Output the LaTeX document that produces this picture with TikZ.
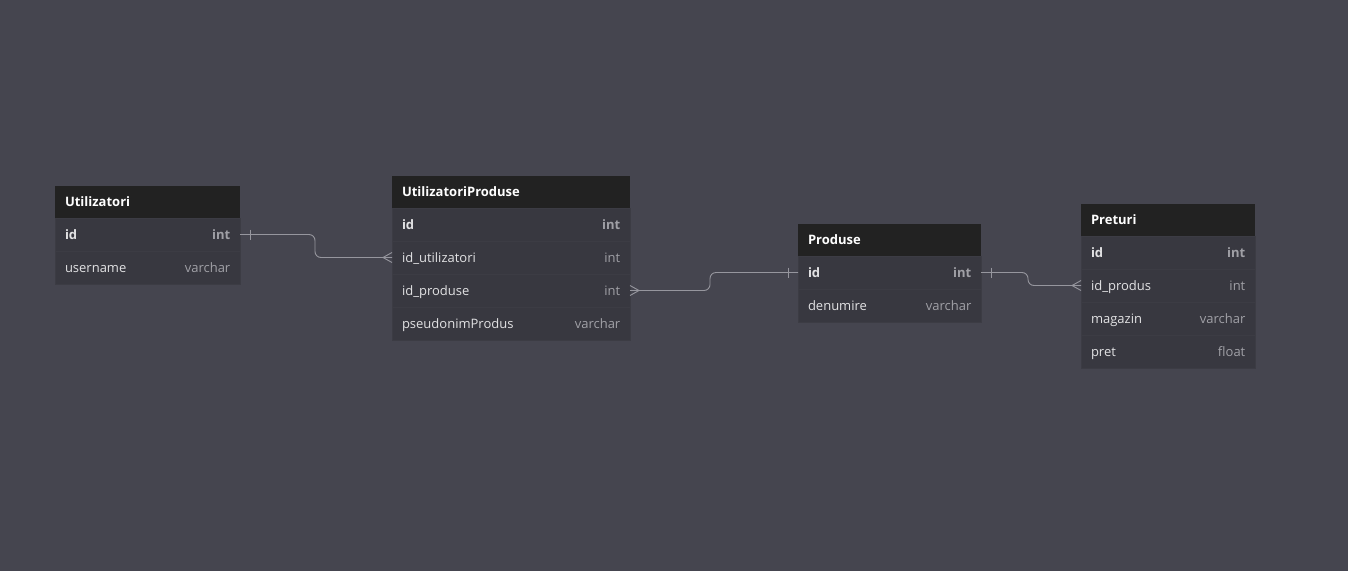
\documentclass[tikz,border=0pt]{standalone}
\usepackage{fontspec}
\setmainfont{Open Sans}
\usepackage{xcolor}
\usetikzlibrary{positioning}
\definecolor{bgcol}{RGB}{69,69,79}
\definecolor{headcol}{RGB}{34,34,34}
\definecolor{rowcol}{RGB}{56,56,64}
\definecolor{rowline}{RGB}{60,60,68}
\definecolor{namecol}{RGB}{226,226,228}
\definecolor{typecol}{RGB}{160,160,166}
\definecolor{relcol}{RGB}{150,150,158}
\newcommand\erfont{\fontsize{13}{15}\selectfont}
\tikzset{
  tblhead/.style={
    fill=headcol,
    text=white,
    anchor=north west,
    minimum height=32pt,
    inner xsep=10pt,
    inner ysep=0pt,
    outer sep=0pt,
    text height=11pt,
    text depth=3pt,
    text width=#1,
    align=left,
    font=\erfont\bfseries
  },
  tblrow/.style={
    fill=rowcol,
    draw=rowline,
    line width=0.6pt,
    text=namecol,
    anchor=north west,
    minimum height=33pt,
    inner xsep=10pt,
    inner ysep=0pt,
    outer sep=0pt,
    text height=12pt,
    text depth=2pt,
    text width=#1,
    align=left,
    font=\erfont
  },
  keyrow/.style={tblrow=#1, font=\erfont\bfseries},
  ftype/.style={text=typecol, anchor=base east, inner sep=0pt, font=\erfont},
  keytype/.style={ftype, font=\erfont\bfseries},
  rel/.style={draw=relcol, line width=0.9pt}
}
\begin{document}
\begin{tikzpicture}[x=1pt,y=-1pt]
  \fill[bgcol] (0,0) rectangle (1348,571);
  \useasboundingbox (0,0) rectangle (1348,571);

  % Utilizatori
  \node[tblhead=165pt] (ut-head) at (55,186) {Utilizatori};
  \node[keyrow=165pt] (ut-id) at (ut-head.south west) {id};
  \node[keytype] (ut-id-t) at ([xshift=-9.5pt]ut-id.base east) {int};
  \node[tblrow=165pt] (ut-un) at (ut-id.south west) {username};
  \node[ftype] (ut-un-t) at ([xshift=-9.5pt]ut-un.base east) {varchar};

  % UtilizatoriProduse
  \node[tblhead=218pt] (up-head) at (392,176) {UtilizatoriProduse};
  \node[keyrow=218pt] (up-id) at (up-head.south west) {id};
  \node[keytype] (up-id-t) at ([xshift=-9.5pt]up-id.base east) {int};
  \node[tblrow=218pt] (up-uid) at (up-id.south west) {id\_utilizatori};
  \node[ftype] (up-uid-t) at ([xshift=-9.5pt]up-uid.base east) {int};
  \node[tblrow=218pt] (up-ip) at (up-uid.south west) {id\_produse};
  \node[ftype] (up-ip-t) at ([xshift=-9.5pt]up-ip.base east) {int};
  \node[tblrow=218pt] (up-ps) at (up-ip.south west) {pseudonimProdus};
  \node[ftype] (up-ps-t) at ([xshift=-9.5pt]up-ps.base east) {varchar};

  % Produse
  \node[tblhead=163pt] (pr-head) at (798,224) {Produse};
  \node[keyrow=163pt] (pr-id) at (pr-head.south west) {id};
  \node[keytype] (pr-id-t) at ([xshift=-9.5pt]pr-id.base east) {int};
  \node[tblrow=163pt] (pr-den) at (pr-id.south west) {denumire};
  \node[ftype] (pr-den-t) at ([xshift=-9.5pt]pr-den.base east) {varchar};

  % Preturi
  \node[tblhead=154pt] (pt-head) at (1081,204) {Preturi};
  \node[keyrow=154pt] (pt-id) at (pt-head.south west) {id};
  \node[keytype] (pt-id-t) at ([xshift=-9.5pt]pt-id.base east) {int};
  \node[tblrow=154pt] (pt-ip) at (pt-id.south west) {id\_produs};
  \node[ftype] (pt-ip-t) at ([xshift=-9.5pt]pt-ip.base east) {int};
  \node[tblrow=154pt] (pt-mag) at (pt-ip.south west) {magazin};
  \node[ftype] (pt-mag-t) at ([xshift=-9.5pt]pt-mag.base east) {varchar};
  \node[tblrow=154pt] (pt-pret) at (pt-mag.south west) {pret};
  \node[ftype] (pt-pret-t) at ([xshift=-9.5pt]pt-pret.base east) {float};

  % Utilizatori.id -< UtilizatoriProduse.id_utilizatori
  \draw[rel, rounded corners=6pt] (ut-id.east) -- ++(75,0) |- (up-uid.west);
  \draw[rel] ([xshift=10pt,yshift=5pt]ut-id.east) -- ++(0,10);
  \draw[rel] ([yshift=5pt]up-uid.west) -- ([xshift=-9pt]up-uid.west) -- ([yshift=-5pt]up-uid.west);

  % UtilizatoriProduse.id_produse >- Produse.id
  \draw[rel, rounded corners=6pt] (up-ip.east) -- ++(80,0) |- (pr-id.west);
  \draw[rel] ([yshift=5pt]up-ip.east) -- ([xshift=9pt]up-ip.east) -- ([yshift=-5pt]up-ip.east);
  \draw[rel] ([xshift=-10pt,yshift=5pt]pr-id.west) -- ++(0,10);

  % Produse.id -< Preturi.id_produs
  \draw[rel, rounded corners=6pt] (pr-id.east) -- ++(47,0) |- (pt-ip.west);
  \draw[rel] ([xshift=10pt,yshift=5pt]pr-id.east) -- ++(0,10);
  \draw[rel] ([yshift=5pt]pt-ip.west) -- ([xshift=-9pt]pt-ip.west) -- ([yshift=-5pt]pt-ip.west);
\end{tikzpicture}
\end{document}
